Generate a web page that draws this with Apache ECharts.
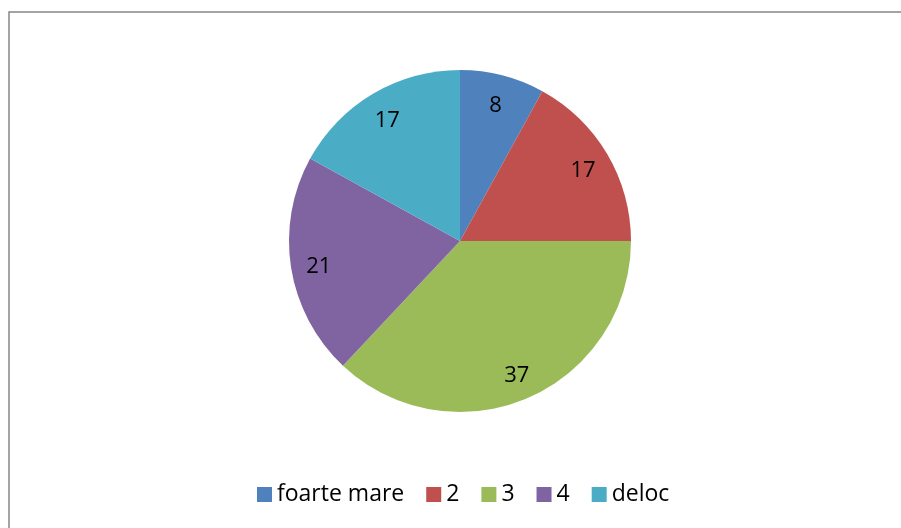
<!DOCTYPE html>
<html lang="ro">

<head>
    <meta charset="UTF-8">
    <script src="https://cdn.jsdelivr.net/npm/echarts@6/dist/echarts.min.js"></script>
    <title>Pie</title>
    <style>
        html, body {
            margin: 0;
            padding: 0;
            background: #fff;
        }
        #main {
            width: 901px;
            height: 528px;
        }
    </style>
</head>

<body>
    <div id="main"></div>
    <script>
        var categories = ['foarte mare', '2', '3', '4', 'deloc'];
        var values = [8, 17, 37, 21, 17];
        var colors = ['#4F81BD', '#C0504D', '#9BBB59', '#8064A2', '#4BACC6'];

        var pieData = [];
        for (var i = 0; i < categories.length; i++) {
            pieData.push({ name: categories[i], value: values[i] });
        }

        var font = '"Open Sans", "Liberation Sans", sans-serif';
        var chart = echarts.init(document.getElementById('main'));
        var option = {
            animation: false,
            color: colors,
            graphic: [{
                type: 'rect',
                shape: { x: 9, y: 12, width: 1000, height: 1000 },
                style: { fill: 'none', stroke: '#878787', lineWidth: 1.5 },
                silent: true
            }],
            legend: {
                data: categories,
                left: 257,
                top: 483,
                padding: 0,
                itemWidth: 15,
                itemHeight: 15,
                itemGap: 22,
                icon: 'rect',
                textStyle: {
                    fontFamily: font,
                    fontSize: 23,
                    color: '#000'
                }
            },
            series: [
                {
                    type: 'pie',
                    center: [460, 241],
                    radius: [0, 171],
                    startAngle: 90,
                    clockwise: true,
                    label: { show: false },
                    labelLine: { show: false },
                    emphasis: { disabled: true },
                    data: pieData
                },
                {
                    // transparent ring, only used to place the value labels
                    type: 'pie',
                    center: [460, 241],
                    radius: [109, 171],
                    startAngle: 90,
                    clockwise: true,
                    silent: true,
                    itemStyle: { color: 'rgba(0,0,0,0)' },
                    label: {
                        show: true,
                        position: 'inside',
                        formatter: '{c}',
                        fontFamily: font,
                        fontSize: 22,
                        color: '#000',
                        offset: [0, 3]
                    },
                    labelLine: { show: false },
                    emphasis: { disabled: true },
                    data: pieData
                }
            ]
        };
        chart.setOption(option);
    </script>
</body>

</html>
